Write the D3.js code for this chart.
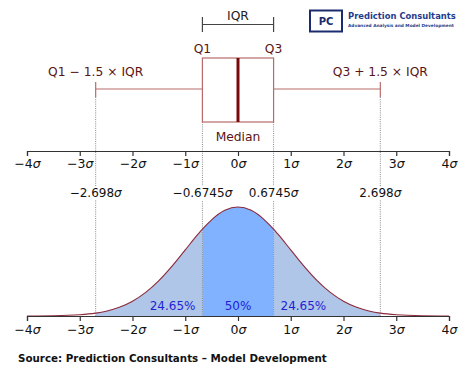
<!DOCTYPE html>
<html>
<head>
<meta charset="utf-8">
<script src="https://cdn.jsdelivr.net/npm/d3@7"></script>
<style>
  body { margin: 0; background: #fff; }
  text { font-family: 'DejaVu Sans', sans-serif; }
</style>
</head>
<body>
<svg class="chart" width="474" height="376"></svg>
<script>
const svg = d3.select('.chart');

// tick values in sigma units
const sigmaTicks = [-4, -3, -2, -1, 0, 1, 2, 3, 4];
// box plot stats
const q1 = -0.6745, median = 0, q3 = 0.6745;
const lowWhisker = -2.698, highWhisker = 2.698;
const quantileMarks = [-2.698, -0.6745, 0.6745, 2.698];
const quantileLabels = ['\u22122.698', '\u22120.6745', '0.6745', '2.698'];
// density
const curveX = [-4, -3.5, -3, -2.698, -2.5, -2.25, -2, -1.75, -1.5, -1.25, -1, -0.75, -0.6745, -0.5, -0.25, 0,
    0.25, 0.5, 0.6745, 0.75, 1, 1.25, 1.5, 1.75, 2, 2.25, 2.5, 2.698, 3, 3.5, 4];
const curveY = [0.0001, 0.0009, 0.0044, 0.0104, 0.0175, 0.0317, 0.054, 0.0863, 0.1295, 0.1826, 0.242, 0.3011, 0.3178, 0.3521, 0.3867, 0.3989,
    0.3867, 0.3521, 0.3178, 0.3011, 0.242, 0.1826, 0.1295, 0.0863, 0.054, 0.0317, 0.0175, 0.0104, 0.0044, 0.0009, 0.0001];
const areaShares = ['24.65%', '50%', '24.65%'];
const areaCenters = [-1.24, 0, 1.24];

const curve = curveX.map((x, i) => ({ x, y: curveY[i] }));

const x = d3.scaleLinear().domain([-4, 4]).range([27, 449]);
const y = d3.scaleLinear().domain([0, 0.3989]).range([316, 207]);

const boxColor = '#b86a6a';
const textColor = '#5a1414';

// number then italic sigma
const sigmaText = (sel, num) => {
    sel.text(null);
    sel.append('tspan').text(num);
    sel.append('tspan').attr('font-style', 'italic').text('\u03c3');
};

// scale font so the text spans a given width
const fitWidth = (sel, w) => {
    const n = sel.node();
    const fs = +sel.attr('font-size');
    sel.attr('font-size', fs * w / n.getComputedTextLength());
};

// ---- axes
const fmt = d => (d < 0 ? '\u2212' + Math.abs(d) : '' + d);
const axisTop = d3.axisBottom(x).tickValues(sigmaTicks).tickSize(5).tickPadding(3);
const axisBot = d3.axisBottom(x).tickValues(sigmaTicks).tickSize(5).tickPadding(4);

// ---- density fills
const area = d3.area().x(d => x(d.x)).y0(y(0)).y1(d => y(d.y)).curve(d3.curveMonotoneX);
const line = d3.line().x(d => x(d.x)).y(d => y(d.y)).curve(d3.curveMonotoneX);

svg.append('path')
    .datum(curve.filter(d => d.x >= lowWhisker && d.x <= q1))
    .attr('d', area).attr('fill', '#b0c6e8');
svg.append('path')
    .datum(curve.filter(d => d.x >= q3 && d.x <= highWhisker))
    .attr('d', area).attr('fill', '#b0c6e8');
svg.append('path')
    .datum(curve.filter(d => d.x >= q1 && d.x <= q3))
    .attr('d', area).attr('fill', '#80b2ff');

// dotted guide lines
const guideTop = d => (Math.abs(d) > 1 ? 97 : 122);
svg.selectAll('.guide')
    .data(quantileMarks)
    .enter().append('line')
    .attr('class', 'guide')
    .attr('x1', d => x(d)).attr('x2', d => x(d))
    .attr('y1', guideTop).attr('y2', y(0))
    .attr('stroke', '#8a8a8a').attr('stroke-width', 1)
    .attr('stroke-dasharray', '1,1.2');

svg.append('path').datum(curve).attr('d', line)
    .attr('fill', 'none').attr('stroke', '#8c2a3c').attr('stroke-width', 1.1);

// quantile labels with white backing
const qg = svg.selectAll('.qlab')
    .data(quantileMarks)
    .enter().append('g')
    .attr('transform', d => `translate(${x(d)},197)`);
qg.append('text')
    .attr('text-anchor', 'middle')
    .attr('font-size', 12)
    .attr('fill', '#111')
    .each(function (d, i) {
        sigmaText(d3.select(this), quantileLabels[i]);
        const b = this.getBBox();
        d3.select(this.parentNode).insert('rect', 'text')
            .attr('x', b.x - 1).attr('y', b.y)
            .attr('width', b.width + 2).attr('height', b.height)
            .attr('fill', '#fff');
    });

// percent labels
svg.selectAll('.pct')
    .data(areaShares)
    .enter().append('text')
    .attr('x', (d, i) => x(areaCenters[i]))
    .attr('y', 310)
    .attr('text-anchor', 'middle')
    .attr('font-size', 12)
    .attr('fill', '#1f1fd6')
    .text(d => d);

// axes
const styleAxis = g => {
    g.select('.domain').attr('stroke', '#333').attr('stroke-width', 1.2);
    g.selectAll('.tick line').attr('stroke', '#333').attr('stroke-width', 1.2);
    g.selectAll('.tick text').attr('font-size', 12.5).attr('fill', '#111')
        .attr('font-family', 'DejaVu Sans')
        .each(function (d) { sigmaText(d3.select(this), fmt(d)); });
};
svg.append('g').attr('transform', 'translate(0,151)').call(axisTop).call(styleAxis);
svg.append('g').attr('transform', `translate(0,${y(0)})`).call(axisBot).call(styleAxis);

// ---- box plot
const boxTop = 58, boxBottom = 122, midY = 89;
svg.append('rect')
    .attr('x', x(q1)).attr('y', boxTop)
    .attr('width', x(q3) - x(q1)).attr('height', boxBottom - boxTop)
    .attr('fill', '#fff').attr('stroke', boxColor).attr('stroke-width', 1.2);
svg.append('line')
    .attr('x1', x(median)).attr('x2', x(median))
    .attr('y1', boxTop).attr('y2', boxBottom)
    .attr('stroke', '#7a0a0a').attr('stroke-width', 3);
[[lowWhisker, q1], [q3, highWhisker]].forEach(([a, b]) => {
    svg.append('line')
        .attr('x1', x(a)).attr('x2', x(b)).attr('y1', midY).attr('y2', midY)
        .attr('stroke', boxColor).attr('stroke-width', 1.2);
});
[lowWhisker, highWhisker].forEach(w => {
    svg.append('line')
        .attr('x1', x(w)).attr('x2', x(w)).attr('y1', 82).attr('y2', 97)
        .attr('stroke', boxColor).attr('stroke-width', 1.2);
});

// IQR bracket
svg.append('path')
    .attr('d', `M${x(q1)},17V32M${x(q1)},24.5H${x(q3)}M${x(q3)},17V32`)
    .attr('fill', 'none').attr('stroke', '#444').attr('stroke-width', 1.2);

const boxLabels = [
    { t: 'IQR', v: median, y: 20, c: '#222' },
    { t: 'Q1', v: q1, y: 53, c: textColor },
    { t: 'Q3', v: q3, y: 53, c: textColor },
    { t: 'Median', v: median, y: 141, c: textColor },
    { t: 'Q1 \u2212 1.5 \u00d7 IQR', v: lowWhisker, y: 76, c: textColor },
    { t: 'Q3 + 1.5 \u00d7 IQR', v: highWhisker, y: 76, c: textColor }
];
svg.selectAll('.blab')
    .data(boxLabels)
    .enter().append('text')
    .attr('x', d => x(d.v)).attr('y', d => d.y)
    .attr('text-anchor', 'middle')
    .attr('font-size', 12.3)
    .attr('fill', d => d.c)
    .text(d => d.t);

// ---- logo
const logo = svg.append('g');
logo.append('rect')
    .attr('x', 310).attr('y', 10.5).attr('width', 32).attr('height', 21)
    .attr('fill', '#fff').attr('stroke', '#1c2a6e').attr('stroke-width', 2);
logo.append('text')
    .attr('x', 326).attr('y', 25).attr('text-anchor', 'middle')
    .attr('font-family', 'Liberation Sans, Arial, sans-serif').attr('font-weight', 'bold')
    .attr('font-size', 10).attr('fill', '#1c2a6e').text('PC');
logo.append('text')
    .attr('x', 348).attr('y', 19)
    .attr('font-family', 'Liberation Sans, Arial, sans-serif').attr('font-weight', 'bold')
    .attr('font-size', 10).attr('fill', '#1f3c8c')
    .text('Prediction Consultants')
    .call(fitWidth, 108);
logo.append('text')
    .attr('x', 348).attr('y', 27)
    .attr('font-family', 'Liberation Sans, Arial, sans-serif').attr('font-weight', 'bold')
    .attr('font-size', 5).attr('fill', '#1f3c8c')
    .text('Advanced Analysis and Model Development')
    .call(fitWidth, 106);

// ---- source
svg.append('text')
    .attr('x', 18).attr('y', 362)
    .attr('font-family', 'Lato, sans-serif').attr('font-weight', 'bold')
    .attr('font-size', 12.5).attr('fill', '#111')
    .text('Source: Prediction Consultants \u2013 Model Development')
    .call(fitWidth, 309);
</script>
</body>
</html>
